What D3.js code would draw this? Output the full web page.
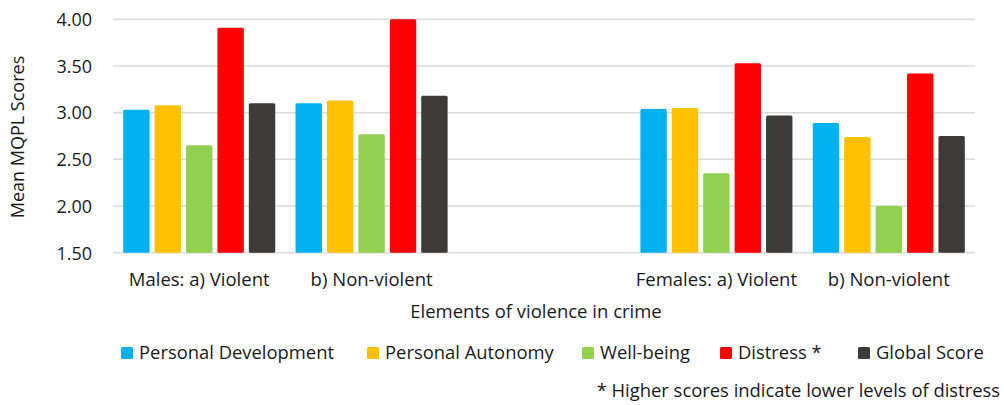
<!DOCTYPE html>
<html>
<head>
<meta charset="utf-8">
<script src="https://cdn.jsdelivr.net/npm/d3@7"></script>
<style>
  body { margin: 0; background: #fff; }
  svg text { font-family: "Open Sans", sans-serif; fill: #1a1a1a; }
</style>
</head>
<body>
<svg id="chart" width="1004" height="405"></svg>
<script>
let categories = ['Males: a) Violent', 'b) Non-violent', '', 'Females: a) Violent', 'b) Non-violent']
let series = ['Personal Development', 'Personal Autonomy', 'Well-being', 'Distress *', 'Global Score']
let personalDevelopment = [3.03, 3.10, null, 3.04, 2.89]
let personalAutonomy = [3.08, 3.13, null, 3.05, 2.74]
let wellBeing = [2.65, 2.77, null, 2.35, 2.00]
let distress = [3.91, 4.00, null, 3.53, 3.42]
let globalScore = [3.10, 3.18, null, 2.97, 2.75]
let yTicks = [1.5, 2.0, 2.5, 3.0, 3.5, 4.0]
let footnote = '* Higher scores indicate lower levels of distress'

let colors = ['#00b0f0', '#ffc000', '#92d050', '#ff0000', '#3c3b39']
let values = [personalDevelopment, personalAutonomy, wellBeing, distress, globalScore]

let svg = d3.select('#chart')

let plotLeft = 113, plotRight = 975, plotTop = 19.3, plotBottom = 252.7

let x0 = d3.scaleBand().domain(d3.range(categories.length)).range([plotLeft, plotRight]).padding(0)
let x1 = d3.scaleBand().domain(series)
    .range([x0.bandwidth()*0.059, x0.bandwidth()*0.941])
    .paddingInner(0.16).paddingOuter(0)
let y = d3.scaleLinear().domain([1.5, 4.0]).range([plotBottom, plotTop])

// gridlines
svg.append('g')
   .selectAll('line')
   .data(yTicks)
   .enter()
   .append('line')
   .attr('x1', plotLeft)
   .attr('x2', plotRight)
   .attr('y1', d => y(d))
   .attr('y2', d => y(d))
   .attr('stroke', '#d9d9d9')
   .attr('stroke-width', 1.5)

// y axis labels
let yAxis = d3.axisLeft(y).tickValues(yTicks).tickFormat(d3.format('.2f')).tickSize(0).tickPadding(0)
let yg = svg.append('g').attr('transform', 'translate(92,0)').call(yAxis)
yg.select('.domain').remove()
yg.selectAll('text').style('font-size', '18px').attr('dy', '0.35em')

// bars
let bars = []
categories.forEach((c, i) => {
    series.forEach((s, j) => {
        if (values[j][i] != null) bars.push({cat: i, ser: s, idx: j, v: values[j][i]})
    })
})

svg.append('g')
   .selectAll('rect')
   .data(bars)
   .enter()
   .append('rect')
   .attr('x', d => x0(d.cat) + x1(d.ser))
   .attr('y', d => y(Math.min(d.v, 4.0)))
   .attr('width', x1.bandwidth())
   .attr('height', d => plotBottom - y(Math.min(d.v, 4.0)))
   .attr('rx', 1.5)
   .attr('fill', d => colors[d.idx])

// category labels
let xAxis = d3.axisBottom(x0).tickFormat(i => categories[i]).tickSize(0).tickPadding(0)
let xg = svg.append('g').attr('transform', 'translate(0,' + 273 + ')').call(xAxis)
xg.select('.domain').remove()
xg.selectAll('text').style('font-size', '18.5px').attr('dy', '0.35em').attr('y', 7)

// axis titles
svg.append('text')
   .text('Elements of violence in crime')
   .attr('x', (plotLeft + plotRight) / 2 - 8)
   .attr('y', 318)
   .attr('text-anchor', 'middle')
   .style('font-size', '18.5px')

svg.append('text')
   .text('Mean MQPL Scores')
   .attr('transform', 'translate(24,' + 137 + ') rotate(-90)')
   .attr('text-anchor', 'middle')
   .style('font-size', '18px')

// legend
let legendX = [121, 367, 582, 720, 858]
let legend = svg.append('g')
legend.selectAll('rect')
      .data(series)
      .enter()
      .append('rect')
      .attr('x', (d, i) => legendX[i])
      .attr('y', 347)
      .attr('width', 12)
      .attr('height', 12)
      .attr('rx', 1.5)
      .attr('fill', (d, i) => colors[i])

legend.selectAll('text')
      .data(series)
      .enter()
      .append('text')
      .text(d => d)
      .attr('x', (d, i) => legendX[i] + 18)
      .attr('y', 353)
      .attr('dy', '0.35em')
      .style('font-size', '18.4px')

svg.append('text')
   .text(footnote)
   .attr('x', 1000)
   .attr('y', 391)
   .attr('dy', '0.35em')
   .attr('text-anchor', 'end')
   .style('font-size', '18.4px')
</script>
</body>
</html>
